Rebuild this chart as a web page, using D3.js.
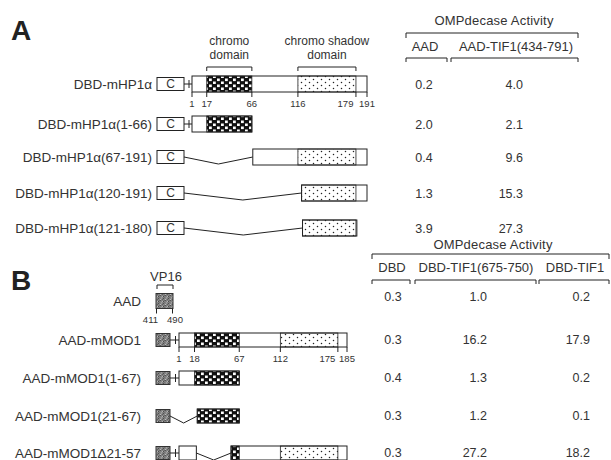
<!DOCTYPE html>
<html>
<head>
<meta charset="utf-8">
<script src="https://cdn.jsdelivr.net/npm/d3@7"></script>
<style>
  body { margin: 0; background: #fff; }
  svg text { font-family: "Liberation Sans", Arial, Helvetica, sans-serif; fill: #333; }
</style>
</head>
<body>
<svg id="fig" width="611" height="460"></svg>
<script>
// ---------- Panel A: DBD fusions of mHP1α ----------
const constructsA = ["DBD-mHP1α", "DBD-mHP1α(1-66)", "DBD-mHP1α(67-191)", "DBD-mHP1α(120-191)", "DBD-mHP1α(121-180)"];
const keptA = [[[1, 191]], [[1, 66]], [[67, 191]], [[120, 191]], [[121, 180]]];
const lengthA = 191;
const chromoA = [17, 66];
const shadowA = [116, 179];
const ticksA = [1, 17, 66, 116, 179, 191];
const columnsA = ["AAD", "AAD-TIF1(434-791)"];
const activityAAD = [0.2, 2.0, 0.4, 1.3, 3.9];
const activityAADTIF1 = [4.0, 2.1, 9.6, 15.3, 27.3];

// ---------- Panel B: VP16 AAD fusions of mMOD1 ----------
const constructsB = ["AAD", "AAD-mMOD1", "AAD-mMOD1(1-67)", "AAD-mMOD1(21-67)", "AAD-mMOD1Δ21-57"];
const keptB = [[], [[1, 185]], [[1, 67]], [[21, 67]], [[1, 20], [58, 185]]];
const lengthB = 185;
const chromoB = [18, 67];
const shadowB = [112, 175];
const ticksB = [1, 18, 67, 112, 175, 185];
const vp16Ticks = [411, 490];
const columnsB = ["DBD", "DBD-TIF1(675-750)", "DBD-TIF1"];
const activityDBD = [0.3, 0.3, 0.4, 0.3, 0.3];
const activityDBDTIF1Frag = [1.0, 16.2, 1.3, 1.2, 27.2];
const activityDBDTIF1 = [0.2, 17.9, 0.2, 0.1, 18.2];

// ---------- layout ----------
const svg = d3.select("#fig");
const ink = "#222";
const fmt = d3.format(".1f");

const xA = d3.scaleLinear().domain([1, lengthA]).range([192, 367]);
const xB = d3.scaleLinear().domain([1, lengthB]).range([179, 347]);

// row centres (the first row of each panel carries residue numbering below it)
const rowYA = [84, 124, 157, 193, 228];
const rowYB = [301, 340, 378, 416, 453];
const rowA = d3.scaleOrdinal().domain(constructsA).range(rowYA);
const rowB = d3.scaleOrdinal().domain(constructsB).range(rowYB);

// ---------- fill patterns ----------
const defs = svg.append("defs");
const chk = defs.append("pattern").attr("id", "chromoFill")
  .attr("patternUnits", "userSpaceOnUse").attr("width", 8).attr("height", 6);
chk.append("rect").attr("width", 8).attr("height", 6).attr("fill", "#111");
chk.append("rect").attr("x", 1).attr("y", 0.5).attr("width", 2.8).attr("height", 2.6).attr("fill", "#fff");
chk.append("rect").attr("x", 5).attr("y", 3.5).attr("width", 2.8).attr("height", 2.6).attr("fill", "#fff");

const dot = defs.append("pattern").attr("id", "shadowFill")
  .attr("patternUnits", "userSpaceOnUse").attr("width", 8).attr("height", 6);
dot.append("rect").attr("width", 8).attr("height", 6).attr("fill", "#fff");
dot.append("circle").attr("cx", 1.5).attr("cy", 1.5).attr("r", 0.75).attr("fill", "#222");
dot.append("circle").attr("cx", 5.5).attr("cy", 4.5).attr("r", 0.75).attr("fill", "#222");

const grain = defs.append("pattern").attr("id", "vp16Fill")
  .attr("patternUnits", "userSpaceOnUse").attr("width", 5).attr("height", 5);
grain.append("rect").attr("width", 5).attr("height", 5).attr("fill", "#828282");
[[0,0,"#555"],[2,1,"#b5b5b5"],[4,0,"#6a6a6a"],[1,2,"#a0a0a0"],[3,3,"#4f4f4f"],
 [0,4,"#bcbcbc"],[4,2,"#707070"],[2,4,"#606060"],[1,3,"#959595"],[3,1,"#4a4a4a"]]
  .forEach(([px, py, c]) => grain.append("rect").attr("x", px).attr("y", py)
    .attr("width", 1).attr("height", 1).attr("fill", c));

// ---------- helpers ----------
function bracket(g, x0, x1, y, drop = 4) {
  g.append("path")
    .attr("d", `M${x0},${y + drop}V${y}H${x1}V${y + drop}`)
    .attr("fill", "none").attr("stroke", ink).attr("stroke-width", 1);
}

function gapLine(g, x0, x1, y, depth = 7) {
  g.append("path")
    .attr("d", `M${x0},${y}L${(x0 + x1) / 2},${y + depth}L${x1},${y}`)
    .attr("fill", "none").attr("stroke", ink).attr("stroke-width", 1);
}

function link(g, x0, x1, y) {
  g.append("line").attr("x1", x0).attr("x2", x1).attr("y1", y).attr("y2", y)
    .attr("stroke", ink);
  const m = (x0 + x1) / 2 + 1;
  g.append("line").attr("x1", m).attr("x2", m).attr("y1", y - 4).attr("y2", y + 4)
    .attr("stroke", ink);
}

// one protein row: retained segments, domains, joins to the fused tag
function protein(g, x, segs, yc, h, tagRight, chromo, shadow) {
  const top = yc - h / 2;
  segs.forEach((s, i) => {
    const x0 = x(s[0]), x1 = x(s[1]);
    const prev = i === 0 ? tagRight : x(segs[i - 1][1]);
    if (i === 0 && s[0] === 1) link(g, prev, x0, yc);
    else gapLine(g, prev, x0, yc);
    g.append("rect").attr("x", x0).attr("y", top).attr("width", x1 - x0).attr("height", h)
      .attr("fill", "#fff");
    [[chromo, "url(#chromoFill)"], [shadow, "url(#shadowFill)"]].forEach(([d, f]) => {
      const a = Math.max(s[0], d[0]), b = Math.min(s[1], d[1]);
      // slivers of a domain only a couple of residues long are not shaded
      if (b - a >= 3) {
        g.append("rect").attr("x", x(a)).attr("y", top).attr("width", x(b) - x(a)).attr("height", h)
          .attr("fill", f).attr("stroke", ink).attr("stroke-width", 0.8);
      }
    });
    g.append("rect").attr("x", x0).attr("y", top).attr("width", x1 - x0).attr("height", h)
      .attr("fill", "none").attr("stroke", ink).attr("stroke-width", 1);
  });
}

// residue numbering under a full-length row
function numbering(g, x, ticks, yBottom) {
  ticks.forEach((t, i) => {
    g.append("line").attr("x1", x(t)).attr("x2", x(t)).attr("y1", yBottom).attr("y2", yBottom + 5)
      .attr("stroke", ink);
    const w = String(t).length * 5.3;
    const next = ticks[i + 1];
    const crowded = next !== undefined &&
      (w / 2 + String(next).length * 5.3 / 2 + 2) > (x(next) - x(t));
    g.append("text").attr("x", crowded ? x(t) - 2.5 : x(t)).attr("y", yBottom + 15)
      .attr("text-anchor", crowded ? "end" : "middle")
      .style("font-size", "9.5px").text(t);
  });
}

const labelSize = "13.5px";
const valueSize = "12.5px";

// ---------- panel A ----------
const gA = svg.append("g");
gA.append("text").attr("x", 11).attr("y", 40).style("font-size", "28px")
  .style("font-weight", "bold").style("fill", "#222").text("A");

[[chromoA, ["chromo", "domain"]], [shadowA, ["chromo shadow", "domain"]]].forEach(([d, lines]) => {
  const cx = (xA(d[0]) + xA(d[1])) / 2;
  lines.forEach((s, k) => gA.append("text").attr("x", cx).attr("y", 45 + k * 13.5)
    .attr("text-anchor", "middle").style("font-size", "12px").text(s));
  bracket(gA, xA(d[0]), xA(d[1]), 67, 4);
});

constructsA.forEach((name, i) => {
  const yc = rowA(name);
  gA.append("text").attr("x", 152).attr("y", yc + 4.5).attr("text-anchor", "end")
    .style("font-size", labelSize).text(name);
  gA.append("rect").attr("x", 157).attr("y", yc - 6.5).attr("width", 27).attr("height", 13)
    .attr("fill", "#fff").attr("stroke", ink);
  gA.append("text").attr("x", 170.5).attr("y", yc + 4.3).attr("text-anchor", "middle")
    .style("font-size", "12px").text("C");
  protein(gA, xA, keptA[i], yc, 16, 184, chromoA, shadowA);
});
numbering(gA, xA, ticksA, rowA(constructsA[0]) + 8);

// activity table A
gA.append("text").attr("x", 494).attr("y", 25).attr("text-anchor", "middle")
  .style("font-size", "13px").style("letter-spacing", "0.2px").text("OMPdecase Activity");
bracket(gA, 406, 578, 33, 5);
const colA = [
  { head: columnsA[0], x0: 406, x1: 447, hx: 425, vals: activityAAD, vx: 424, anchor: "middle" },
  { head: columnsA[1], x0: 451, x1: 578, hx: 516, vals: activityAADTIF1, vx: 523, anchor: "end" }
];
colA.forEach(c => {
  gA.append("text").attr("x", c.hx).attr("y", 51).attr("text-anchor", "middle")
    .style("font-size", "13px").text(c.head);
  bracket(gA, c.x0, c.x1, 58, 4);
  c.vals.forEach((v, i) => gA.append("text").attr("x", c.vx).attr("y", rowA(constructsA[i]) + 4.5)
    .attr("text-anchor", c.anchor).style("font-size", valueSize).text(fmt(v)));
});

// ---------- panel B ----------
const gB = svg.append("g");
gB.append("text").attr("x", 11).attr("y", 290).style("font-size", "28px")
  .style("font-weight", "bold").style("fill", "#222").text("B");

gB.append("text").attr("x", 166).attr("y", 280.5).attr("text-anchor", "middle")
  .style("font-size", "13px").text("VP16");
bracket(gB, 157, 173, 285, 4);

constructsB.forEach((name, i) => {
  const yc = rowB(name);
  gB.append("text").attr("x", 141).attr("y", yc + 4.5).attr("text-anchor", "end")
    .style("font-size", labelSize).text(name);
  const tagW = i === 0 ? 17 : 14;
  const tagH = i === 0 ? 15 : 13;
  gB.append("rect").attr("x", 156).attr("y", yc - tagH / 2).attr("width", tagW).attr("height", tagH)
    .attr("fill", "url(#vp16Fill)").attr("stroke", "#333");
  protein(gB, xB, keptB[i], yc, 14, 170, chromoB, shadowB);
});

// VP16 residue span under the AAD tag
{
  const yb = rowB(constructsB[0]) + 7.5;
  [156.5, 172.5].forEach(px => gB.append("line").attr("x1", px).attr("x2", px)
    .attr("y1", yb).attr("y2", yb + 5).attr("stroke", ink));
  gB.append("text").attr("x", 158).attr("y", yb + 14).attr("text-anchor", "end")
    .style("font-size", "9.5px").text(vp16Ticks[0]);
  gB.append("text").attr("x", 175).attr("y", yb + 14).attr("text-anchor", "middle")
    .style("font-size", "9.5px").text(vp16Ticks[1]);
}
numbering(gB, xB, ticksB, rowB(constructsB[1]) + 7);

// activity table B
gB.append("text").attr("x", 493).attr("y", 249).attr("text-anchor", "middle")
  .style("font-size", "13px").style("letter-spacing", "0.2px").text("OMPdecase Activity");
bracket(gB, 372, 609, 254, 5);
const colB = [
  { head: columnsB[0], x0: 372, x1: 410, hx: 392, vals: activityDBD, vx: 393, anchor: "middle" },
  { head: columnsB[1], x0: 415, x1: 536, hx: 476, vals: activityDBDTIF1Frag, vx: 487, anchor: "end" },
  { head: columnsB[2], x0: 539, x1: 609, hx: 575, vals: activityDBDTIF1, vx: 590, anchor: "end" }
];
colB.forEach(c => {
  gB.append("text").attr("x", c.hx).attr("y", 271.5).attr("text-anchor", "middle")
    .style("font-size", "13px").text(c.head);
  bracket(gB, c.x0, c.x1, 280, 4);
  c.vals.forEach((v, i) => gB.append("text")
    .attr("x", c.vx).attr("y", rowB(constructsB[i]) + (i === 0 ? 0 : 4))
    .attr("text-anchor", c.anchor).style("font-size", valueSize).text(fmt(v)));
});
</script>
</body>
</html>
